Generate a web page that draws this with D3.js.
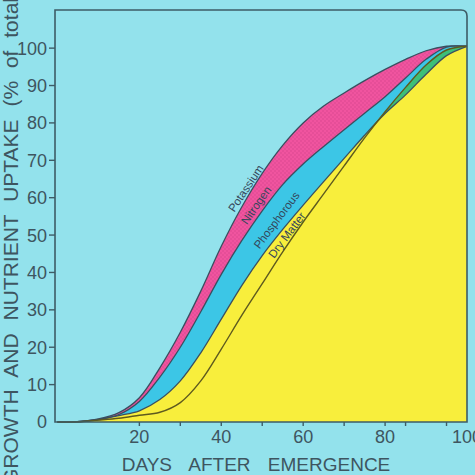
<!DOCTYPE html>
<html>
<head>
<meta charset="utf-8">
<script src="https://cdn.jsdelivr.net/npm/d3@7"></script>
<style>
  body { margin: 0; background: #93e2ec; }
  svg { display: block; font-family: "Liberation Sans", Arial, sans-serif; }
</style>
</head>
<body>
<svg id="chart" width="475" height="475"></svg>
<script>
// days after emergence, % of total at harvest
const days       = [0, 4, 10, 15, 20, 25, 30, 35, 40, 45, 50, 55, 60, 65, 70, 75, 80, 85, 90, 95, 100]
const potassium  = [0, 0, 0.8, 2.5, 6.5, 14.5, 24, 35, 47, 57.5, 66.5, 74, 80, 84.5, 88, 91.3, 94.3, 97, 99.3, 100.5, 100.5]
const nitrogen   = [0, 0, 0.7, 2, 5.5, 12, 20, 29.5, 39.5, 48.5, 56.5, 63.5, 69, 73.7, 78.2, 82.6, 87, 92, 97, 100.3, 100.5]
const phosphorus = [0, 0, 0.6, 1.7, 3, 6, 11, 18.5, 27.5, 36.5, 44.5, 51.5, 58, 64.3, 70.5, 76.7, 82.5, 87.5, 93, 98, 100.5]
const dryMatter  = [0, 0, 0.5, 1, 1.8, 2.6, 5.2, 11, 19.5, 28.5, 37, 45.5, 53.5, 61, 68.5, 76, 83, 89.5, 95.5, 99.5, 100.5]

const yTicks = [0, 10, 20, 30, 40, 50, 60, 70, 80, 90, 100]
const xLabelTicks = [20, 40, 60, 80, 100]
const xMinorTicks = [30, 50, 70, 85, 95]

const svg = d3.select("#chart")

let x = d3.scaleLinear().domain([-0.6, 100]).range([55, 467])
let y = d3.scaleLinear().domain([0, 110.2]).range([422, 10])

//pink halftone
let defs = svg.append("defs")
let pat = defs.append("pattern")
  .attr("id", "dots")
  .attr("width", 4)
  .attr("height", 4)
  .attr("patternUnits", "userSpaceOnUse")
pat.append("rect").attr("width", 4).attr("height", 4).attr("fill", "#f0549f")
pat.append("circle").attr("cx", 1).attr("cy", 1).attr("r", 0.8).attr("fill", "#da468f")
pat.append("circle").attr("cx", 3).attr("cy", 3).attr("r", 0.8).attr("fill", "#da468f")

let rows = days.map((d, i) => ({
  day: d,
  k: potassium[i],
  n: nitrogen[i],
  p: phosphorus[i],
  dm: dryMatter[i],
  top: Math.max(phosphorus[i], dryMatter[i])
}))

let curve = d3.curveCatmullRom.alpha(0.5)
let band = (lo, hi) => d3.area().curve(curve).x(d => x(d.day)).y0(d => y(lo(d))).y1(d => y(hi(d)))
let line = f => d3.line().curve(curve).x(d => x(d.day)).y(d => y(f(d)))

let g = svg.append("g")

g.append("path").datum(rows).attr("d", band(d => d.n, d => d.k)).attr("fill", "url(#dots)")
g.append("path").datum(rows).attr("d", band(d => d.p, d => d.n)).attr("fill", "#3cc6e6")
g.append("path").datum(rows).attr("d", band(d => 0, d => d.top)).attr("fill", "#f8ee3c")
g.append("path").datum(rows).attr("d", band(d => d.p, d => d.top)).attr("fill", "#3dbf78")

let strokes = [
  [d => d.k, "#3a4f60", 1.3],
  [d => d.n, "#3a4f60", 1.3],
  [d => d.p, "#3a4f60", 1.3],
  [d => d.dm, "#5e5a1e", 1.4]
]
strokes.forEach(s => {
  g.append("path")
    .datum(rows)
    .attr("d", line(s[0]))
    .style("fill", "none")
    .style("stroke", s[1])
    .style("stroke-width", s[2])
})

//frame
svg.append("path")
  .attr("d", "M55,422 V10 H461 Q467,10 467,16 V422 Z")
  .style("fill", "none")
  .style("stroke", "#3e5c66")
  .style("stroke-width", 1.6)

//y axis
let ya = svg.append("g").style("fill", "#3e5560").style("font-size", "18px")
ya.selectAll("line").data(yTicks.filter(t => t > 0)).enter().append("line")
  .attr("x1", 49).attr("x2", 55)
  .attr("y1", d => y(d)).attr("y2", d => y(d))
  .style("stroke", "#3e5c66").style("stroke-width", 1.4)
ya.selectAll("text").data(yTicks).enter().append("text")
  .attr("x", 47).attr("y", d => y(d)).attr("dy", "0.36em")
  .attr("text-anchor", "end")
  .text(d => d)

//x axis
let xa = svg.append("g").style("fill", "#3e5560").style("font-size", "18px")
xa.selectAll("line").data(xLabelTicks.concat(xMinorTicks).filter(t => t < 100)).enter().append("line")
  .attr("x1", d => x(d)).attr("x2", d => x(d))
  .attr("y1", 422).attr("y2", 426)
  .style("stroke", "#3e5c66").style("stroke-width", 1.4)
xa.selectAll("text").data(xLabelTicks).enter().append("text")
  .attr("x", d => x(d)).attr("y", 443)
  .attr("text-anchor", "middle")
  .text(d => d)

svg.append("text")
  .attr("x", 256).attr("y", 471)
  .attr("text-anchor", "middle")
  .style("font-size", "19px").style("word-spacing", "12px").style("fill", "#3e5560")
  .text("DAYS AFTER EMERGENCE")

svg.append("text")
  .attr("transform", "translate(18,238) rotate(-90)")
  .attr("text-anchor", "middle")
  .style("font-size", "21px").style("word-spacing", "7px").style("fill", "#3e5560")
  .text("GROWTH AND NUTRIENT UPTAKE (% of total)")

//curve names
let names = [
  ["Potassium", 46, 62.5, -56],
  ["Nitrogen", 48.5, 58, -55],
  ["Phosphorous", 53.5, 54, -53],
  ["Dry Matter", 56, 50, -53]
]
svg.append("g").selectAll("text").data(names).enter().append("text")
  .attr("transform", d => "translate(" + x(d[1]) + "," + y(d[2]) + ") rotate(" + d[3] + ")")
  .attr("text-anchor", "middle")
  .attr("dy", "0.35em")
  .style("font-size", "11.5px")
  .style("fill", "#34465a")
  .text(d => d[0])
</script>
</body>
</html>
